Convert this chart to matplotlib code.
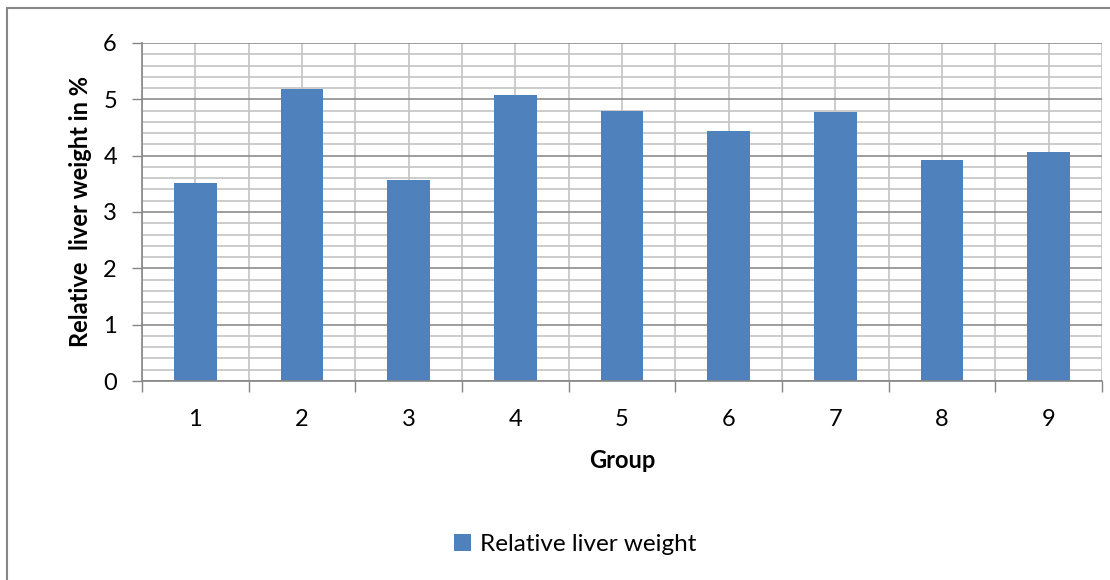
import matplotlib
matplotlib.use("Agg")
import matplotlib.pyplot as plt
from matplotlib.patches import Rectangle
from matplotlib.ticker import MultipleLocator, FixedLocator, NullFormatter

groups = ["1", "2", "3", "4", "5", "6", "7", "8", "9"]
liver_weight = [3.52, 5.19, 3.57, 5.08, 4.80, 4.44, 4.78, 3.93, 4.07]
series_name = "Relative liver weight"

plt.rcParams["font.family"] = ["Lato", "DejaVu Sans"]

fig = plt.figure(figsize=(11.1, 5.8), dpi=100)
ax = fig.add_axes([0.1279, 0.3431, 0.8649, 0.5828])

x = list(range(len(groups)))
bars = ax.bar(x, liver_weight, width=0.4, color="#4F81BD", zorder=3, label=series_name)

ax.set_xlim(-0.5, len(groups) - 0.5)
ax.set_ylim(0, 6)

# y axis: integer labels, minor grid every 0.2
ax.yaxis.set_major_locator(MultipleLocator(1))
ax.yaxis.set_minor_locator(MultipleLocator(0.2))
ax.tick_params(axis="y", which="major", length=7, width=1, color="#868686",
               labelsize=17, pad=11)
ax.tick_params(axis="y", which="minor", length=0)

# x axis: tick marks at category boundaries, labels at centres
bounds = [i - 0.5 for i in range(len(groups) + 1)]
ax.xaxis.set_major_locator(FixedLocator(bounds))
ax.xaxis.set_major_formatter(NullFormatter())
ax.xaxis.set_minor_locator(FixedLocator(x))
ax.set_xticklabels(groups, minor=True)
ax.tick_params(axis="x", which="major", length=8, width=1, color="#868686")
ax.tick_params(axis="x", which="minor", length=0, labelsize=17, pad=20)

# grid
ax.grid(axis="y", which="major", color="#8c8c8c", linewidth=1.2, zorder=0)
ax.grid(axis="y", which="minor", color="#c4c4c4", linewidth=1.2, zorder=0)
for xv in [i * 0.5 - 0.5 for i in range(2 * len(groups) + 1)]:
    ax.axvline(xv, color="#c4c4c4", linewidth=1.2, zorder=1)

for side in ["top", "right"]:
    ax.spines[side].set_visible(False)
ax.spines["left"].set_color("#868686")
ax.spines["bottom"].set_color("#868686")
ax.spines["left"].set_linewidth(1.2)
ax.spines["bottom"].set_linewidth(1.2)
ax.spines["left"].set_zorder(4)
ax.spines["bottom"].set_zorder(4)

ax.set_xlabel("Group", fontsize=17, fontweight="bold", labelpad=14)
ax.set_ylabel("Relative  liver weight in %", fontsize=17, fontweight="bold", labelpad=8)

fig.legend(handles=[bars], labels=[series_name], loc="center",
           bbox_to_anchor=(0.518, 0.062), frameon=False, fontsize=17.5,
           handlelength=0.7, handleheight=0.7, handletextpad=0.35)

# outer chart border
fig.patches.append(Rectangle((7 / 1110, -0.05), 1.2, (580 - 8) / 580 + 0.05,
                             transform=fig.transFigure, fill=False,
                             edgecolor="#868686", linewidth=1.5))

fig.savefig("out.png", dpi=100, facecolor="white")
